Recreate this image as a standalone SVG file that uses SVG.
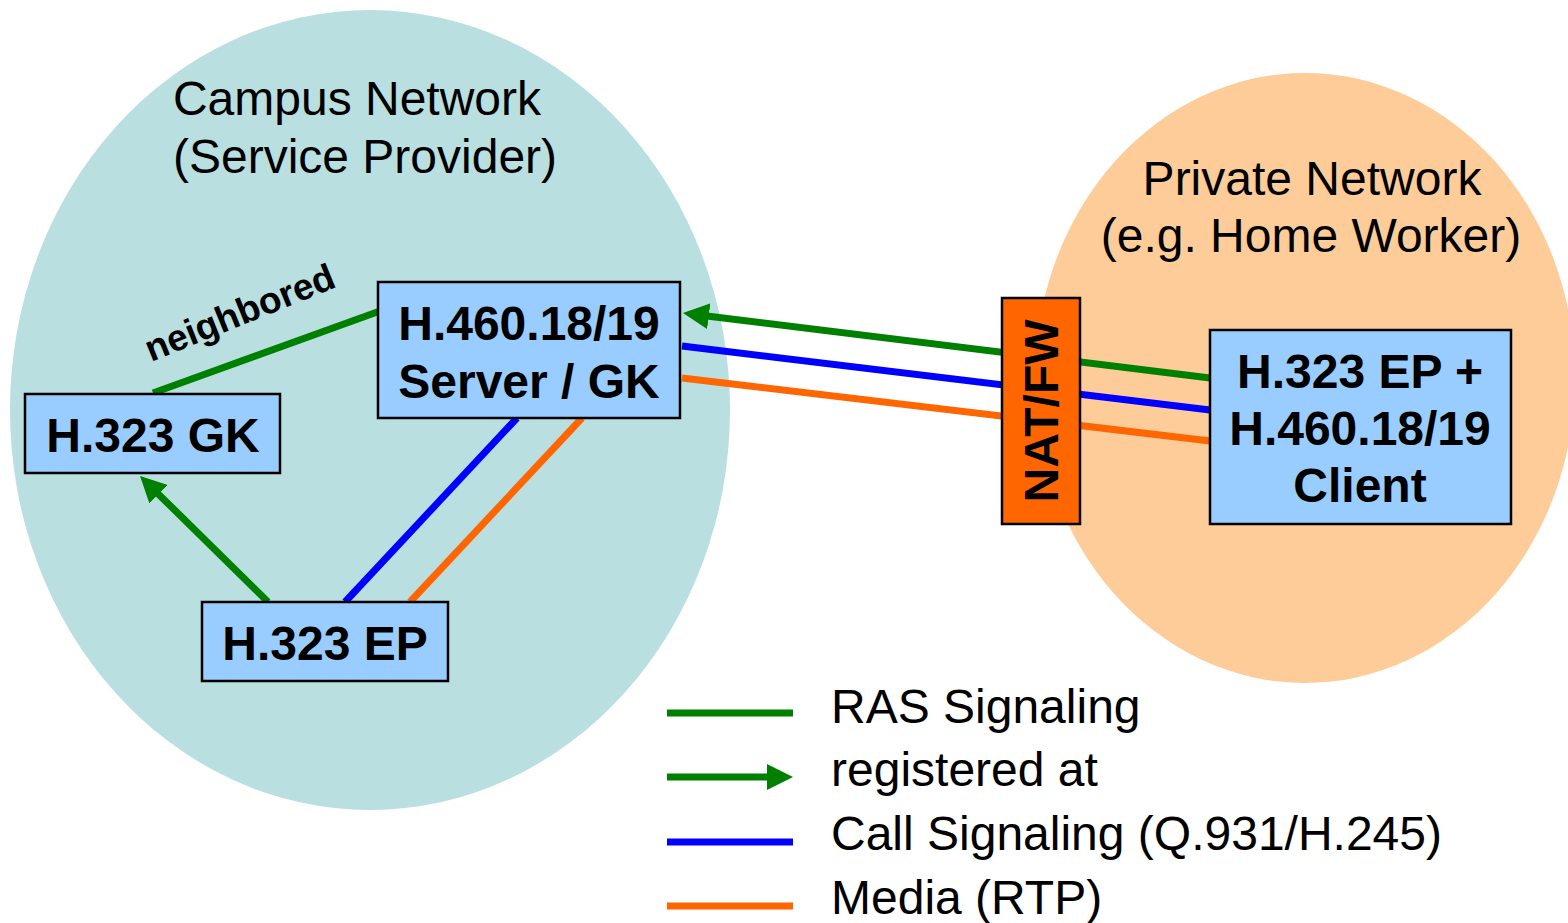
<svg xmlns="http://www.w3.org/2000/svg" width="1568" height="923" viewBox="0 0 1568 923">
<style>
.net{font-family:"Liberation Sans",Arial,sans-serif;font-size:48px;fill:#000;text-anchor:middle}
.box{fill:#99CCFF;stroke:#000;stroke-width:2.5}
.nat{fill:#FF6600;stroke:#000;stroke-width:2.5}
.lbl{font-family:"Liberation Sans",Arial,sans-serif;font-size:48px;font-weight:bold;fill:#000;text-anchor:middle}
.leg{font-family:"Liberation Sans",Arial,sans-serif;font-size:48px;fill:#000}
.c{fill:none;stroke-width:7}
.g{stroke:#008000}.b{stroke:#0000FF}.o{stroke:#FF6600}
</style>
<defs>
<marker id="ah" viewBox="0 0 26 26" markerWidth="26" markerHeight="26" refX="4" refY="13" orient="auto" markerUnits="userSpaceOnUse">
<path d="M0,0 L26,13 L0,26 z" fill="#008000"/>
</marker>
</defs>
<rect width="1568" height="923" fill="#fff"/>
<g id="campus">
<ellipse cx="370" cy="410" rx="360" ry="400" fill="#B9DFE1"/>
<text class="net" x="357" y="115">Campus Network</text>
<text class="net" x="365" y="173">(Service Provider)</text>
</g>
<g id="private">
<ellipse cx="1305" cy="378" rx="270" ry="305" fill="#FECC99"/>
<text class="net" x="1312" y="195">Private Network</text>
<text class="net" x="1311" y="252">(e.g. Home Worker)</text>
</g>
<g id="connectors">
<line class="c g" x1="153" y1="393" x2="380" y2="311"/>
<text font-family="Liberation Sans,Arial,sans-serif" font-size="37" font-weight="bold" transform="translate(151,362) rotate(-22)">neighbored</text>
<line class="c g" x1="268" y1="602" x2="155.7" y2="491.4" marker-end="url(#ah)"/>
<line class="c b" x1="345" y1="602" x2="517" y2="418"/>
<line class="c o" x1="410" y1="602" x2="582" y2="418"/>
<line class="c g" x1="1210" y1="378" x2="704.8" y2="315.7" marker-end="url(#ah)"/>
<line class="c b" x1="1210" y1="410" x2="682" y2="346"/>
<line class="c o" x1="1210" y1="441" x2="682" y2="378"/>
</g>
<g id="server">
<rect class="box" x="378" y="282" width="302" height="136"/>
<text class="lbl" x="529" y="340">H.460.18/19</text>
<text class="lbl" x="529" y="398">Server / GK</text>
</g>
<g id="gk">
<rect class="box" x="25" y="394" width="255" height="79"/>
<text class="lbl" x="153" y="452">H.323 GK</text>
</g>
<g id="ep">
<rect class="box" x="202" y="602" width="246" height="79"/>
<text class="lbl" x="325" y="660">H.323 EP</text>
</g>
<g id="natfw">
<rect class="nat" x="1002" y="298" width="78" height="226"/>
<text class="lbl" transform="translate(1058,411) rotate(-90)">NAT/FW</text>
</g>
<g id="client">
<rect class="box" x="1210" y="330" width="301" height="194"/>
<text class="lbl" x="1360" y="388">H.323 EP +</text>
<text class="lbl" x="1360" y="445">H.460.18/19</text>
<text class="lbl" x="1360" y="502">Client</text>
</g>
<g id="legend">
<line class="c g" x1="667" y1="713" x2="793" y2="713" stroke-width="8"/>
<line class="c g" x1="667" y1="777" x2="771" y2="777" stroke-width="8" marker-end="url(#ah)"/>
<line class="c b" x1="667" y1="842" x2="793" y2="842" stroke-width="8"/>
<line class="c o" x1="667" y1="906" x2="793" y2="906" stroke-width="8"/>
<text class="leg" x="831" y="723">RAS Signaling</text>
<text class="leg" x="831" y="786">registered at</text>
<text class="leg" x="831" y="850">Call Signaling (Q.931/H.245)</text>
<text class="leg" x="831" y="914">Media (RTP)</text>
</g>
</svg>
